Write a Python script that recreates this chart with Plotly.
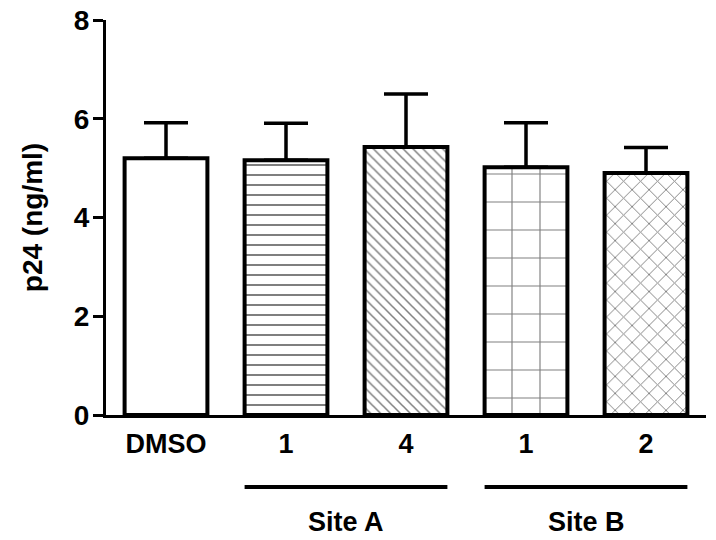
import plotly.graph_objects as go

categories = ["DMSO", "1", "4", "1", "2"]
means = [5.2, 5.16, 5.43, 5.02, 4.9]
errors_plus = [0.72, 0.75, 1.07, 0.9, 0.52]
patterns = ["", "-", "\\", "+", "x"]
pattern_sizes = [8, 10, 7, 28, 12]
pattern_solidity = [0.2, 0.2, 0.22, 0.08, 0.15]
groups = [("Site A", 1, 2), ("Site B", 3, 4)]
y_ticks = [0, 2, 4, 6, 8]

FONT = "Liberation Sans, Arial, sans-serif"
BAR_W = 0.69
xs = list(range(len(categories)))

fig = go.Figure()
fig.add_trace(go.Bar(
    x=xs, y=means, width=BAR_W,
    marker=dict(
        color="white",
        line=dict(color="black", width=4),
        pattern=dict(shape=patterns, size=pattern_sizes, solidity=pattern_solidity,
                     fgcolor="black", bgcolor="white", fillmode="overlay"),
    ),
    error_y=dict(type="data", symmetric=False, array=errors_plus,
                 arrayminus=[0] * len(means), color="black",
                 thickness=3.5, width=22),
    showlegend=False,
))

shapes = []
annotations = []
for name, i0, i1 in groups:
    x0 = xs[i0] - BAR_W / 2
    x1 = xs[i1] + BAR_W / 2
    shapes.append(dict(type="line", xref="x", yref="paper", x0=x0, x1=x1,
                       y0=-0.182, y1=-0.182, line=dict(color="black", width=4)))
    annotations.append(dict(text=name, xref="x", yref="paper", x=(x0 + x1) / 2,
                            y=-0.272, showarrow=False, yanchor="middle",
                            font=dict(family=FONT, size=27, color="black", weight="bold")))

fig.update_layout(
    width=716, height=540,
    margin=dict(l=106, r=10, t=20, b=125, autoexpand=False),
    plot_bgcolor="white", paper_bgcolor="white",
    shapes=shapes, annotations=annotations,
    font=dict(family=FONT, color="black"),
)
fig.update_xaxes(
    range=[-0.5, 4.5], tickvals=xs, ticktext=categories,
    showline=True, linewidth=3, linecolor="black", ticks="",
    showgrid=False, zeroline=False, ticklabelstandoff=3,
    tickfont=dict(family=FONT, size=27, color="black", weight="bold"),
)
fig.update_yaxes(
    range=[0, 8], tickvals=y_ticks,
    showline=True, linewidth=3, linecolor="black",
    ticks="outside", ticklen=10, tickwidth=3, tickcolor="black",
    showgrid=False, zeroline=False, ticklabelstandoff=-2,
    tickfont=dict(family=FONT, size=28, color="black", weight="bold"),
    title=dict(text="p24 (ng/ml)", standoff=24,
               font=dict(family=FONT, size=28, color="black", weight="bold")),
)
fig.write_html("out.html", config={"displayModeBar": False},
               post_script="document.body.style.margin='0';")
